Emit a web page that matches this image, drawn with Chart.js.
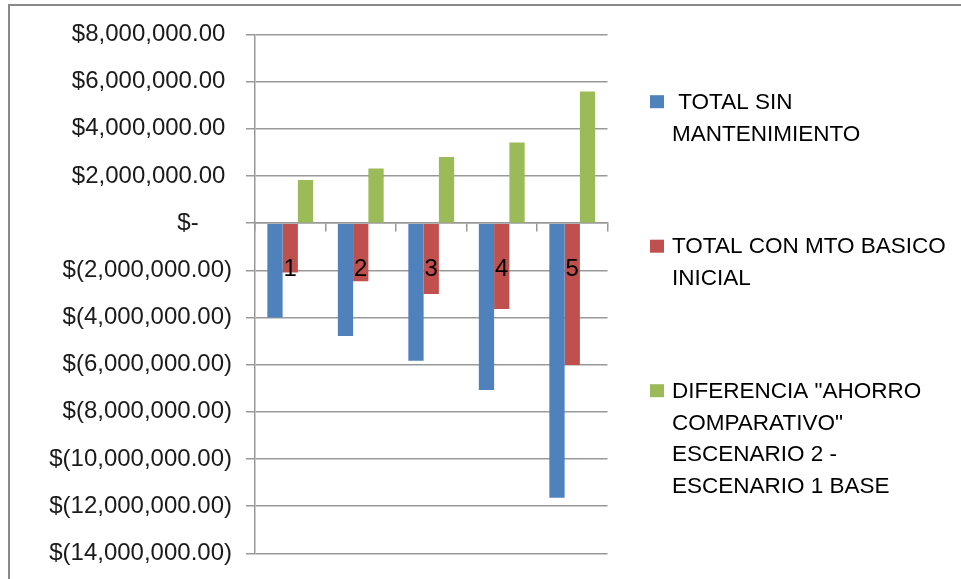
<!DOCTYPE html>
<html>
<head>
<meta charset="utf-8">
<script src="https://cdn.jsdelivr.net/npm/chart.js@4/dist/chart.umd.min.js"></script>
<style>
  html, body { margin: 0; padding: 0; background: #ffffff; }
  #wrap { position: relative; width: 961px; height: 579px; }
</style>
</head>
<body>
<div id="wrap"><canvas id="chart" width="961" height="579"></canvas></div>
<script>
// Periods shown on the category axis
const categories = ['1', '2', '3', '4', '5'];

// Series values (currency)
const totalSinMantenimiento = [-4000000, -4790000, -5830000, -7080000, -11640000];
const totalConMtoBasico     = [-2090000, -2460000, -3000000, -3640000, -6020000];
const diferenciaAhorro      = [1830000, 2320000, 2810000, 3420000, 5580000];

// Legend text, one entry per series, split into its lines
const seriesNames = [
  [' TOTAL SIN', 'MANTENIMIENTO'],
  ['TOTAL CON MTO BASICO', 'INICIAL'],
  ['DIFERENCIA "AHORRO', 'COMPARATIVO"', 'ESCENARIO 2 -', 'ESCENARIO 1 BASE']
];
const seriesColors = ['#4F81BD', '#C0504D', '#9BBB59'];

// Value axis range
const yMin = -14000000;
const yMax = 8000000;
const yStep = 2000000;

const FONT = '"Liberation Sans", Arial, sans-serif';

// Accounting-style currency label: $1,234.00 / $(1,234.00) / $-
function accounting(v) {
  if (v === 0) return '$-\u2007\u2007 ';
  const s = Math.abs(v).toLocaleString('en-US', { minimumFractionDigits: 2, maximumFractionDigits: 2 });
  return v < 0 ? '$(' + s + ')' : '$' + s + ' ';
}

// Grey frame around the whole chart
const framePlugin = {
  id: 'frame',
  beforeDraw(chart) {
    const ctx = chart.ctx;
    ctx.save();
    ctx.strokeStyle = '#888888';
    ctx.lineWidth = 2;
    ctx.strokeRect(9, 5, 2000, 2000);
    ctx.restore();
  }
};

// Legend on the right with multi-line entries
const sideLegend = {
  id: 'sideLegend',
  afterDraw(chart) {
    const ctx = chart.ctx;
    const boxX = 650, textX = 672, firstY = 101.7, itemGap = 144.5, lineH = 31.7;
    ctx.save();
    ctx.font = '22.5px ' + FONT;
    ctx.textBaseline = 'middle';
    ctx.textAlign = 'left';
    chart.data.datasets.forEach((ds, i) => {
      const y0 = firstY + i * itemGap;
      ctx.fillStyle = ds.backgroundColor;
      ctx.fillRect(boxX, y0 - 6.5, 14, 13);
      ctx.fillStyle = '#000000';
      ds.label.forEach((line, j) => {
        ctx.fillText(line, textX, y0 + j * lineH + 1);
      });
    });
    ctx.restore();
  }
};

const datasets = [totalSinMantenimiento, totalConMtoBasico, diferenciaAhorro].map((vals, i) => ({
  label: seriesNames[i],
  data: vals,
  backgroundColor: seriesColors[i],
  borderWidth: 0,
  categoryPercentage: 0.65,
  barPercentage: 1.0
}));

new Chart(document.getElementById('chart'), {
  type: 'bar',
  data: { labels: categories, datasets },
  options: {
    responsive: false,
    animation: false,
    events: [],
    layout: { padding: { left: 0, top: 34.5, right: 353.5, bottom: 25.7 } },
    plugins: {
      legend: { display: false },
      tooltip: { enabled: false }
    },
    scales: {
      x: {
        position: { y: 0 },
        offset: true,
        grid: {
          offset: true,
          drawOnChartArea: false,
          drawTicks: true,
          tickLength: 8,
          color: '#999999',
          lineWidth: 1.5
        },
        border: { display: true, color: '#999999', width: 1.5 },
        ticks: {
          z: 1,
          color: '#000000',
          font: { family: FONT, size: 24 },
          padding: 24,
          maxRotation: 0,
          autoSkip: false
        }
      },
      y: {
        min: yMin,
        max: yMax,
        grid: {
          color: '#999999',
          lineWidth: 1.5,
          drawTicks: true,
          tickLength: 9
        },
        border: { display: true, color: '#999999', width: 1.5 },
        ticks: {
          stepSize: yStep,
          color: '#1a1a1a',
          font: { family: FONT, size: 24 },
          padding: 14,
          callback: (v) => accounting(v)
        },
        afterFit(scale) {
          scale.width = 255;
          scale.paddingTop = 14;
          scale.paddingBottom = 14;
        }
      }
    }
  },
  plugins: [framePlugin, sideLegend]
});
</script>
</body>
</html>
